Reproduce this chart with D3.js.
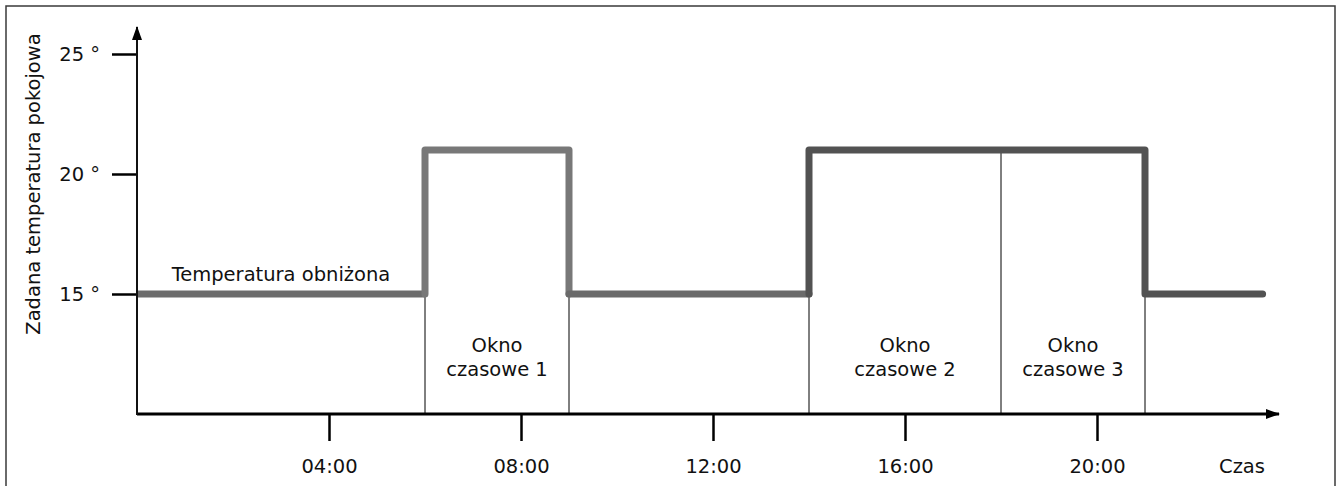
<!DOCTYPE html>
<html lang="pl">
<head>
    <meta charset="UTF-8">
    <script src="https://d3js.org/d3.v7.min.js"></script>
    <title>Zadana temperatura pokojowa</title>
    <style>
        body { margin: 0; background: #fff; }
        svg text { font-family: "DejaVu Sans", sans-serif; fill: #111; }
    </style>
</head>
<body>
    <div id="chart"></div>
    <script>
        // data
        const tickHours = [4, 8, 12, 16, 20];
        const tickLabels = ["04:00", "08:00", "12:00", "16:00", "20:00"];
        const tempTicks = [15, 20, 25];
        const tempLabels = ["15 °", "20 °", "25 °"];

        // step profile, split in parts drawn with different greys
        const reducedMorning = [[0, 15], [6, 15]];
        const window1 = [[6, 15], [6, 21], [9, 21], [9, 15]];
        const reducedDay = [[9, 15], [14, 15]];
        const window23 = [[14, 15], [14, 21], [21, 21], [21, 15], [23.45, 15]];

        const boundaryHours = [6, 9, 14, 18, 21];
        const boundaryTemps = [15, 15, 15, 21, 15];

        const windowNames = ["czasowe 1", "czasowe 2", "czasowe 3"];
        const windowCenters = [7.5, 16, 19.5];

        const width = 1337, height = 486;
        const fontSize = 19.5;

        const svg = d3.select("#chart").append("svg")
            .attr("width", width)
            .attr("height", height);

        const x = d3.scaleLinear().domain([0, 24]).range([137, 1289]);
        const y = d3.scaleLinear().domain([10, 25]).range([414, 54]);

        // frame
        svg.append("rect")
            .attr("x", 6).attr("y", 6)
            .attr("width", 1329).attr("height", 500)
            .attr("fill", "none")
            .attr("stroke", "#3a3a3a")
            .attr("stroke-width", 1.5);

        const defs = svg.append("defs");
        defs.append("marker")
            .attr("id", "arrow")
            .attr("viewBox", "0 0 14 10")
            .attr("refX", 13).attr("refY", 5)
            .attr("markerWidth", 14).attr("markerHeight", 10)
            .attr("markerUnits", "userSpaceOnUse")
            .attr("orient", "auto")
            .append("path")
            .attr("d", "M0,0 L14,5 L0,10 Z")
            .attr("fill", "#000");

        // window boundaries (thin lines)
        svg.append("g").selectAll("line")
            .data(boundaryHours)
            .join("line")
            .attr("x1", d => x(d)).attr("x2", d => x(d))
            .attr("y1", y(10))
            .attr("y2", (d, i) => y(boundaryTemps[i]))
            .attr("stroke", "#000")
            .attr("stroke-width", 1);

        // step line
        const line = d3.line().x(d => x(d[0])).y(d => y(d[1]));
        const parts = [
            { pts: reducedMorning, color: "#6c6c6c", cap: "butt" },
            { pts: window1, color: "#787878", cap: "round" },
            { pts: reducedDay, color: "#6a6a6a", cap: "round" },
            { pts: window23, color: "#525252", cap: "round" }
        ];
        svg.append("g").selectAll("path")
            .data(parts)
            .join("path")
            .attr("d", d => line(d.pts))
            .attr("fill", "none")
            .attr("stroke", d => d.color)
            .attr("stroke-width", 7)
            .attr("stroke-linejoin", "round")
            .attr("stroke-linecap", d => d.cap);

        // axes
        const xAxis = d3.axisBottom(x)
            .tickValues(tickHours)
            .tickSize(27)
            .tickFormat((d, i) => tickLabels[i]);
        const gx = svg.append("g")
            .attr("transform", `translate(0,${y(10)})`)
            .call(xAxis);
        gx.select(".domain").remove();
        gx.selectAll(".tick line").attr("stroke", "#000").attr("stroke-width", 2.5);
        gx.selectAll(".tick text")
            .attr("y", 59)
            .attr("dy", 0)
            .attr("font-size", fontSize)
            .attr("font-family", "DejaVu Sans, sans-serif")
            .attr("fill", "#111");

        const yAxis = d3.axisLeft(y)
            .tickValues(tempTicks)
            .tickSize(25)
            .tickPadding(12)
            .tickFormat((d, i) => tempLabels[i]);
        const gy = svg.append("g")
            .attr("transform", `translate(${x(0)},0)`)
            .call(yAxis);
        gy.select(".domain").remove();
        gy.selectAll(".tick line").attr("stroke", "#000").attr("stroke-width", 2.5);
        gy.selectAll(".tick text")
            .attr("font-size", fontSize)
            .attr("font-family", "DejaVu Sans, sans-serif")
            .attr("fill", "#111");

        // axis lines with arrows
        svg.append("line")
            .attr("x1", x(0)).attr("x2", 1279)
            .attr("y1", y(10)).attr("y2", y(10))
            .attr("stroke", "#000").attr("stroke-width", 3)
            .attr("marker-end", "url(#arrow)");
        svg.append("line")
            .attr("x1", x(0)).attr("x2", x(0))
            .attr("y1", y(10) + 1).attr("y2", 27)
            .attr("stroke", "#111").attr("stroke-width", 2)
            .attr("marker-end", "url(#arrow)");

        // texts
        svg.append("text")
            .attr("transform", "translate(40,184) rotate(-90)")
            .attr("text-anchor", "middle")
            .attr("font-size", fontSize)
            .text("Zadana temperatura pokojowa");

        svg.append("text")
            .attr("x", 1242).attr("y", 473)
            .attr("text-anchor", "middle")
            .attr("font-size", fontSize)
            .text("Czas");

        svg.append("text")
            .attr("x", x(3)).attr("y", y(15) - 13)
            .attr("text-anchor", "middle")
            .attr("font-size", fontSize)
            .text("Temperatura obniżona");

        const wl = svg.append("g").selectAll("text")
            .data(windowNames)
            .join("text")
            .attr("text-anchor", "middle")
            .attr("font-size", fontSize);
        wl.append("tspan")
            .attr("x", (d, i) => x(windowCenters[i]))
            .attr("y", y(12.6))
            .text("Okno");
        wl.append("tspan")
            .attr("x", (d, i) => x(windowCenters[i]))
            .attr("y", y(11.6))
            .text(d => d);
    </script>
</body>
</html>
